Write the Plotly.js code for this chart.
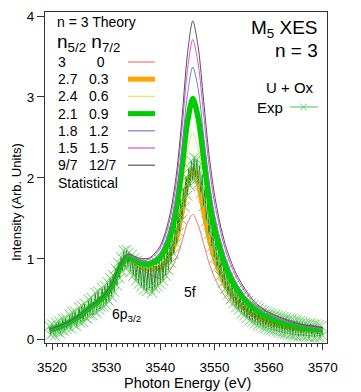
<!DOCTYPE html>
<html>
<head>
<meta charset="utf-8">
<script src="https://cdn.plot.ly/plotly-3.0.1.min.js"></script>
<style>
  html, body { margin: 0; padding: 0; background: #fff; }
  #grafica { width: 361px; height: 392px; }
</style>
</head>
<body>
<div id="grafica"></div>
<script>
// energías (eV) de las curvas teóricas
const energia = [3519.5, 3521, 3523, 3525, 3527, 3529, 3531,
  3532, 3533, 3534, 3535, 3536, 3537, 3538, 3539, 3540, 3541, 3542, 3543, 3544, 3545, 3546,
  3547, 3548, 3549, 3550, 3551, 3552, 3553, 3554,
  3556, 3558, 3560, 3562, 3564, 3566, 3568, 3570];

// n = 3 teoría, una curva por reparto n5/2 : n7/2
const teo30 = [.11, .14, .20, .28, .38, .48, .63,
  .79, .92, .99, .95, .89, .85, .81, .78, .76, .80, .88, 1.01, 1.21, 1.44, 1.55,
  1.42, 1.19, .95, .77, .64, .53, .45, .39,
  .29, .22, .18, .15, .12, .11, .09, .08];
const teo2703 = [.12, .14, .20, .28, .39, .49, .64,
  .80, .94, 1.00, .97, .92, .89, .87, .88, .89, .96, 1.07, 1.25, 1.56, 1.92, 2.10,
  1.93, 1.59, 1.26, 1.01, .83, .68, .57, .49,
  .36, .27, .21, .18, .15, .13, .11, .10];
const teo2406 = [.12, .15, .21, .29, .40, .49, .65,
  .81, .95, 1.02, .98, .94, .92, .91, .93, .96, 1.05, 1.20, 1.46, 1.85, 2.32, 2.56,
  2.35, 1.93, 1.52, 1.20, .98, .81, .67, .57,
  .41, .31, .25, .20, .17, .14, .13, .11];
const teo2109 = [.12, .15, .21, .29, .40, .50, .66,
  .82, .96, 1.03, 1.00, .96, .94, .94, .97, 1.02, 1.14, 1.33, 1.64, 2.12, 2.68, 2.98,
  2.74, 2.25, 1.75, 1.38, 1.13, .92, .76, .64,
  .47, .35, .28, .22, .19, .16, .14, .12];
const teo1812 = [.12, .15, .21, .29, .40, .51, .67,
  .83, .97, 1.04, 1.01, .98, .96, .97, 1.01, 1.08, 1.22, 1.45, 1.81, 2.37, 3.02, 3.37,
  3.10, 2.53, 1.97, 1.55, 1.26, 1.03, .85, .71,
  .51, .38, .30, .25, .21, .17, .15, .13];
const teo1515 = [.12, .15, .22, .30, .41, .51, .67,
  .84, .98, 1.05, 1.03, 1.00, .98, 1.00, 1.05, 1.13, 1.29, 1.55, 1.96, 2.59, 3.32, 3.71,
  3.41, 2.79, 2.16, 1.70, 1.38, 1.12, .93, .78,
  .56, .41, .33, .26, .22, .19, .16, .14];
const teoEstad = [.13, .16, .22, .30, .41, .51, .68,
  .84, .98, 1.06, 1.04, 1.01, 1.00, 1.01, 1.07, 1.16, 1.34, 1.62, 2.06, 2.73, 3.52, 3.94,
  3.62, 2.96, 2.29, 1.80, 1.45, 1.18, .98, .82,
  .59, .43, .34, .28, .23, .19, .17, .15];

// experimental U + Ox: empieza en 3519.5 eV, paso 0.25 eV
const expInicio = 3519.5;
const expPaso = 0.25;
const expIntensidad = [
  .17, .06, .19, .09, .05, .21, .10, .23,
  .08, .12, .26, .11, .27, .13, .16, .31,
  .14, .34, .19, .35, .17, .24, .40, .21,
  .42, .22, .45, .27, .26, .50, .30, .52,
  .30, .36, .58, .33, .60, .37, .41, .64,
  .41, .67, .43, .71, .48, .76, .53, .80,
  .59, .88, .67, .95, .76, 1.02, .84, 1.10,
  .89, 1.11, .90, 1.08, .84, 1.05, .79, 1.01,
  .73, .98, .69, .95, .66, .94, .62, .92,
  .60, .93, .63, .91, .58, .95, .64, .96,
  .66, 1.00, .69, 1.02, .73, 1.08, .79, 1.14,
  .86, 1.23, .95, 1.33, 1.06, 1.45, 1.19, 1.58,
  1.33, 1.73, 1.48, 1.87, 1.64, 2.01, 1.78, 2.12,
  1.90, 2.21, 1.97, 2.25, 2.00, 2.23, 1.93, 2.15,
  1.81, 2.04, 1.65, 1.87, 1.47, 1.70, 1.31, 1.53,
  1.15, 1.37, 1.01, 1.24, .90, 1.12, .79, 1.02,
  .70, .93, .63, .86, .56, .78, .50, .73,
  .45, .68, .40, .62, .37, .59, .32, .55,
  .30, .51, .27, .48, .24, .45, .22, .43,
  .20, .41, .18, .39, .17, .37, .15, .36,
  .14, .34, .13, .33, .12, .32, .11, .31,
  .10, .30, .09, .29, .08, .28, .07, .27,
  .07, .26, .06, .25, .05, .24, .05, .24,
  .04, .23, .05, .22, .04, .21, .04, .20,
  .03, .20, .04, .19, .03, .19, .04, .18,
  .03, .17, .05];

// etiquetas de la leyenda
const n52 = ["3", "2.7", "2.4", "2.1", "1.8", "1.5", "9/7"];
const n72 = ["0", "0.3", "0.6", "0.9", "1.2", "1.5", "12/7"];
const curvas = [teo30, teo2703, teo2406, teo2109, teo1812, teo1515, teoEstad];
const colores = ["#ff6f6f", "#ffa500", "#e6e66e", "#00cc00", "#7080c8", "#e050d0", "#555555"];
const grosores = [1, 5, 1, 5.5, 1, 1, 1];

const fuente = "Arial, 'Liberation Sans', sans-serif";
const W = 361, H = 392;
const M = { l: 45, r: 34, t: 12, b: 49 };
const px = x => (x - M.l) / (W - M.l - M.r);
const py = y => (H - M.b - y) / (H - M.t - M.b);

function linea(i) {
    return {
        x: energia,
        y: curvas[i],
        mode: "lines",
        line: { color: colores[i], width: grosores[i], shape: "spline", smoothing: 0.8 },
        showlegend: false,
        hoverinfo: "skip"
    };
}

const exp = {
    x0: expInicio,
    dx: expPaso,
    y: expIntensidad,
    mode: "lines+markers",
    line: { color: "#1f8a1f", width: 1 },
    marker: { symbol: "x-thin-open", size: 10, color: "#66cc66", line: { color: "#66cc66", width: 1 } },
    showlegend: false,
    hoverinfo: "skip"
};

// orden de dibujo: el experimento va sobre la naranja y bajo la verde
const trazas = [linea(0), linea(1), linea(2), exp, linea(3), linea(4), linea(5), linea(6)];

const anotaciones = [];
const formas = [];
function texto(t, x, y, size, anchor) {
    anotaciones.push({
        text: t, xref: "paper", yref: "paper", x: px(x), y: py(y),
        xanchor: anchor || "left", yanchor: "middle", showarrow: false,
        font: { family: fuente, size: size, color: "#000" }
    });
}

texto("n = 3 Theory", 55, 22, 14);
texto("n<sub>5/2</sub> n<sub>7/2</sub>", 55, 43, 19);
for (let i = 0; i < n52.length; i++) {
    const yy = 62 + i * 17.2;
    texto(n52[i], 56, yy, 14);
    texto(n72[i].length === 1 ? "\u00a0\u00a0" + n72[i] : n72[i], 87, yy, 14);
    formas.push({
        type: "line", xref: "paper", yref: "paper",
        x0: px(128), x1: px(155), y0: py(yy), y1: py(yy),
        line: { color: colores[i], width: grosores[i] === 1 ? 1.2 : 5 }
    });
}
texto("Statistical", 56, 183, 14);

texto("M<sub>5</sub> XES", 320, 29, 19, "right");
texto("n = 3", 320, 50, 19, "right");
texto("U + Ox", 316, 88, 15, "right");
texto("Exp", 285, 107, 15, "right");
formas.push({ type: "line", xref: "paper", yref: "paper",
    x0: px(290), x1: px(318), y0: py(107), y1: py(107), line: { color: "#66cc66", width: 1.2 } });
formas.push({ type: "line", xref: "paper", yref: "paper",
    x0: px(300), x1: px(307), y0: py(103.5), y1: py(110.5), line: { color: "#66cc66", width: 1 } });
formas.push({ type: "line", xref: "paper", yref: "paper",
    x0: px(300), x1: px(307), y0: py(110.5), y1: py(103.5), line: { color: "#66cc66", width: 1 } });

// etiquetas de los picos
anotaciones.push({ text: "6p<sub>3/2</sub>", x: 3533.8, y: 0.31, xref: "x", yref: "y",
    showarrow: false, font: { family: fuente, size: 14, color: "#000" } });
anotaciones.push({ text: "5f", x: 3545.4, y: 0.59, xref: "x", yref: "y",
    showarrow: false, font: { family: fuente, size: 14, color: "#000" } });

// títulos de los ejes como anotaciones (posición fija)
texto("Photon Energy (eV)", 187, 383, 14.5, "center");
anotaciones.push({ text: "Intensity (Arb. Units)", xref: "paper", yref: "paper",
    x: px(16), y: py(202), textangle: -90, showarrow: false,
    xanchor: "center", yanchor: "middle",
    font: { family: fuente, size: 13, color: "#000" } });

const layout = {
    width: W, height: H,
    margin: M,
    paper_bgcolor: "white",
    plot_bgcolor: "white",
    font: { family: fuente, size: 13.5, color: "#000" },
    showlegend: false,
    xaxis: {
        range: [3518.7, 3570.8],
        tickvals: [3520, 3530, 3540, 3550, 3560, 3570],
        ticks: "outside", ticklen: 6, tickcolor: "#333",
        ticklabelstandoff: 6,
        minor: { dtick: 1, ticks: "outside", ticklen: 3, tickcolor: "#333" },
        showline: true, linecolor: "#333", mirror: true,
        showgrid: false, zeroline: false,
        tickfont: { family: fuente, size: 13.5 }
    },
    yaxis: {
        range: [-0.04, 4.05],
        tickvals: [0, 1, 2, 3, 4],
        ticks: "outside", ticklen: 7, tickcolor: "#333",
        showline: true, linecolor: "#333", mirror: true,
        showgrid: false, zeroline: false,
        tickfont: { family: fuente, size: 13.5 }
    },
    annotations: anotaciones,
    shapes: formas
};

Plotly.newPlot("grafica", trazas, layout, { staticPlot: true });
</script>
</body>
</html>
